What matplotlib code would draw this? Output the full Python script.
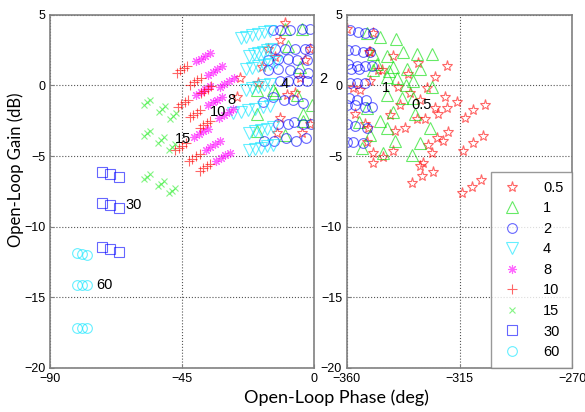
import matplotlib
matplotlib.use("Agg")
import matplotlib.pyplot as plt

plt.rcParams.update({"font.family": ["Liberation Sans", "DejaVu Sans"]})

# ---- data: open-loop phase (deg) and gain (dB) per frequency ----
phase_05 = [-9.9, -11.6, -15.7, -1.4, -13.3, -3.1, -17.7, -25.2, -19.1, -4.8, -9.2,
            -26.2, -6.5, -11.6, -1.4, -12.6, -4.1,
            -360, -349.6, -351, -341.6, -331.6, -320, -347.6, -335.6, -324.8, -350.8,
            -328, -334.8, -320.8, -316, -304.8, -309.6, -312.8, -324.8, -320, -330.8,
            -338.8, -342.8, -332, -328.8, -323.6, -336.8, -340.8, -319.6, -305.6,
            -309.6, -313.6, -324, -321.6, -327.6, -326, -341.6, -345.6, -349.6, -349.6,
            -352, -351.6, -356.8, -329.6, -325.6, -330, -334, -314, -310, -306.4,
            -330.8, -350.8, -346, -339.6, -357.6, -354.8, -352.8]
gain_05 = [4.4, 3.2, 2.6, 2.6, 2.0, 1.8, 1.3, 0.5, 0.14, 0.5, -0.7,
           -0.85, -0.57, -2.27, -2.7, -3.4, -3.4,
           4.0, 3.7, 2.4, 2.05, 1.56, 1.4, 1.06, 0.78, 0.57, 0.35,
           -0.2, -0.5, -0.85, -1.2, -1.4, -1.77, -2.27, -1.63, -1.63, -1.06,
           -1.4, -2.1, -2.4, -2.4, -2.0, -3.0, -3.2, -3.3, -3.6,
           -4.1, -4.65, -3.75, -3.9, -4.2, -4.8, -4.65, -5.1, -4.8, -5.5,
           -4.0, -3.0, -2.0, -5.5, -6.1, -6.4, -6.9, -7.6, -7.2, -6.7,
           -5.7, 2.35, 1.06, -0.14, -0.2, -0.35, -2.7]

phase_1 = [-4.1, -9.9, -8.9, -4.8, -19.4, -14, -13.3, -5.8, -0.7, -19.4, -3.8, -3.8,
           -19.4, -9.9,
           -352, -346.8, -340.4, -349.6, -344, -337.6, -332, -326, -341.6, -336,
           -330.8, -349.6, -344, -340, -333.6, -326, -344, -338, -333.6, -352,
           -341.6, -332.8, -346.8, -344, -326.8, -350.8, -340.8, -330.8, -354,
           -345.6, -334, -348, -343, -336.5, -355]
gain_1 = [4.0, 4.0, 2.8, 1.3, -0.35, -0.35, -0.57, -0.7, -1.4, -2.0, -2.0, -2.5,
          -3.2, -3.5,
          3.7, 3.4, 3.3, 2.25, 2.1, 2.35, 2.25, 2.25, 1.3, 1.2,
          1.2, 1.06, 0.57, 0.5, 0.35, -0.14, -0.7, -0.92, -0.92, -1.6,
          -1.9, -2.0, -2.5, -3.0, -3.0, -3.5, -3.9, -4.1, -4.4,
          -4.75, -4.95, 1.5, 1.0, 0.0, -2.6]

phase_2 = [-14, -11.6, -8.2, -4.1, -1.4,
           -13.3, -9.9, -6.5, -3.1, -1.4,
           -15.7, -12.3, -8.9, -5.8, -2.4,
           -15.7, -12.3, -8.2, -5.5, -2.1,
           -11.6, -8.9, -5.5, -2.4,
           -17.4, -14, -10.2, -7.2, -3.8,
           -12.3, -8.9, -6.8, -3.8, -1.0,
           -17, -13.6, -9.6, -6.2, -2.8,
           -358.8, -355.6, -352.8, -349.6,
           -359.6, -356.8, -353.6, -350.8,
           -359.6, -356, -352.8, -350, -358.5, -355,
           -358.8, -356, -352.8,
           -359.2, -356, -352.4,
           -360, -356.8, -352.8, -350,
           -360, -356.8, -352,
           -360, -357.6, -353.6]
gain_2 = [3.9, 3.9, 3.9, 4.0, 4.0,
          2.6, 2.6, 2.6, 2.6, 2.55,
          1.8, 1.9, 1.9, 1.8, 1.8,
          1.06, 1.2, 1.06, 0.9, 0.9,
          0.35, 0.35, 0.35, 0.35,
          -1.2, -0.85, -1.06, -1.06, -1.27,
          -2.7, -2.7, -2.6, -2.7, -2.7,
          -3.9, -3.9, -3.75, -3.9, -3.75,
          3.9, 3.75, 3.7, 3.7,
          2.5, 2.5, 2.4, 2.35,
          1.55, 1.4, 1.4, 1.4, 1.2, 1.2,
          0.2, 0.2, 0.2,
          -0.9, -1.0, -1.0,
          -1.4, -1.4, -1.55, -1.55,
          -2.7, -2.85, -3.0,
          -4.0, -4.0, -4.1]

phase_4 = [-25, -23, -21, -19, -17, -15,
           -22, -20.5, -19, -17.5, -16, -14.5,
           -23, -21, -19, -17, -15, -13,
           -23, -21, -19, -17, -15,
           -27.5, -25, -22.5, -20, -17.5, -15,
           -22, -20, -18, -16, -14,
           -22, -20, -18, -16, -14]
gain_4 = [3.35, 3.45, 3.55, 3.65, 3.75, 3.85,
          2.1, 2.2, 2.3, 2.4, 2.5, 2.6,
          1.15, 1.25, 1.35, 1.45, 1.55, 1.65,
          -0.3, -0.2, -0.1, 0.0, 0.1,
          -1.95, -1.85, -1.75, -1.65, -1.55, -1.45,
          -3.35, -3.25, -3.15, -3.05, -2.95,
          -4.6, -4.5, -4.4, -4.3, -4.2]

phase_8 = [-40.2, -38.6, -37.0, -35.4, -36.1, -34.5, -32.9, -31.3, -32.1, -30.5, -28.9, -27.3,
           -40.2, -38.6, -37.0, -35.4, -36.1, -34.5, -32.9, -31.3, -32.3, -30.7, -29.1, -27.5,
           -40.9, -39.3, -37.7, -36.1, -36.9, -35.3, -33.7, -32.1, -33.4, -31.8, -30.2, -28.6]
gain_8 = [1.7, 1.9, 2.1, 2.3, 0.76, 0.96, 1.16, 1.36, -0.1, 0.1, 0.3, 0.5,
          -0.65, -0.45, -0.25, -0.05, -1.4, -1.2, -1.0, -0.8, -2.3, -2.1, -1.9, -1.7,
          -3.65, -3.45, -3.25, -3.05, -4.55, -4.35, -4.15, -3.95, -5.35, -5.15, -4.95, -4.75]

phase_10 = [-46.8, -45.6, -44.4, -43.2, -42.1, -40.9, -39.7, -38.5, -38.6, -37.4, -36.2, -35.0,
            -46.5, -45.3, -44.1, -42.9, -42.4, -41.2, -40.0, -38.8, -39.0, -37.8, -36.6, -35.4,
            -47.3, -46.1, -44.9, -43.7, -42.6, -41.4, -40.2, -39.0, -39.0, -37.8, -36.6, -35.4]
gain_10 = [0.9, 1.07, 1.23, 1.4, 0.05, 0.22, 0.38, 0.55, -0.55, -0.38, -0.22, -0.05,
           -1.5, -1.33, -1.17, -1.0, -2.25, -2.08, -1.92, -1.75, -3.0, -2.83, -2.67, -2.5,
           -4.6, -4.43, -4.27, -4.1, -5.35, -5.18, -5.02, -4.85, -6.05, -5.88, -5.72, -5.55]

phase_15 = [-58, -57, -56, -52.8, -51.8, -50.8, -49.1, -48.1, -47.1,
            -58, -57, -56, -53.2, -52.2, -51.2, -49.4, -48.4, -47.4,
            -58, -57, -56, -53.2, -52.2, -51.2, -49.4, -48.4, -47.4]
gain_15 = [-1.4, -1.2, -1.0, -1.85, -1.65, -1.45, -2.35, -2.15, -1.95,
           -3.6, -3.4, -3.2, -4.05, -3.85, -3.65, -4.55, -4.35, -4.15,
           -6.65, -6.45, -6.25, -7.15, -6.95, -6.75, -7.65, -7.45, -7.25]

phase_30 = [-72.3, -69.5, -66.5, -72.3, -69.5, -66.5, -72.3, -69.5, -66.5]
gain_30 = [-6.15, -6.3, -6.5, -8.35, -8.5, -8.65, -11.45, -11.6, -11.8]

phase_60 = [-80.8, -79.1, -77.4, -80.8, -79.1, -77.4, -80.8, -79.1, -77.4]
gain_60 = [-11.85, -11.9, -12.0, -14.1, -14.1, -14.15, -17.15, -17.2, -17.2]

# label text: (text, panel, phase, gain)
annotations = [("4", 0, -9.9, 0.07), ("8", 0, -28, -1.06), ("10", 0, -32.7, -1.9),
               ("15", 0, -44.7, -3.8), ("30", 0, -61.5, -8.5), ("60", 0, -71.6, -14.1),
               ("2", 1, -369.5, 0.45), ("1", 1, -344.5, -0.15), ("0.5", 1, -330, -1.4)]

series = [
    ("0.5", phase_05, gain_05, "*", "#ff0000", 8),
    ("1", phase_1, gain_1, "^", "#00dd00", 8),
    ("2", phase_2, gain_2, "o", "#0000ff", 7),
    ("4", phase_4, gain_4, "v", "#00e5ff", 8),
    ("8", phase_8, gain_8, (8, 2, 0), "#ff00ff", 6.5),
    ("10", phase_10, gain_10, "+", "#ff0000", 7),
    ("15", phase_15, gain_15, "x", "#33ee33", 4.5),
    ("30", phase_30, gain_30, "s", "#0000ff", 7),
    ("60", phase_60, gain_60, "o", "#00e5ff", 7),
]

fig = plt.figure(figsize=(5.85, 4.12), dpi=100)
ax1 = fig.add_axes([0.0855, 0.107, 0.451, 0.857])
ax2 = fig.add_axes([0.593, 0.107, 0.385, 0.857])
axes = [ax1, ax2]

for ax in axes:
    for label, ph, g, mk, col, ms in series:
        ax.plot(ph, g, linestyle="none", marker=mk, markersize=ms,
                markerfacecolor="none", markeredgecolor=col, markeredgewidth=0.8,
                alpha=0.6, label=label)
    ax.set_ylim(-20, 5)
    ax.set_yticks([-20, -15, -10, -5, 0, 5])
    ax.grid(True, linestyle=":", color="#555555", linewidth=0.8)
    ax.tick_params(direction="in", length=3, color="#808080", labelsize=9)
    for sp in ax.spines.values():
        sp.set_color("#808080")
        sp.set_linewidth(1.2)

ax1.set_xlim(-90, 0)
ax1.set_xticks([-90, -45, 0])
ax2.set_xlim(-360, -270)
ax2.set_xticks([-360, -315, -270])

for txt, panel, x, y in annotations:
    axes[panel].text(x, y, txt, fontsize=10.5, ha="center", va="center", clip_on=False)

leg = ax2.legend(loc="lower right", borderaxespad=0, fontsize=10.5, numpoints=1,
                 fancybox=False, edgecolor="#808080", handletextpad=1.2,
                 labelspacing=0.45, borderpad=0.6, handlelength=1.8)
leg.get_frame().set_linewidth(1.0)
for h in leg.legend_handles:
    h.set_alpha(0.6)

fig.text(0.575, 0.034, "Open-Loop Phase (deg)", fontsize=13, family="Lato",
         ha="center", va="center")
fig.text(0.027, 0.587, "Open-Loop Gain (dB)", fontsize=12, family="Lato",
         rotation=90, ha="center", va="center")

fig.savefig("out.png", dpi=100)
